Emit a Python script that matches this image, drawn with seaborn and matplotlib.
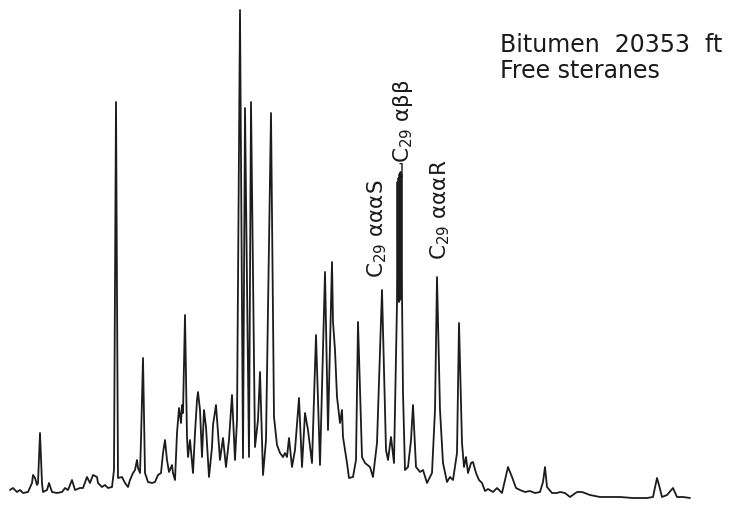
import matplotlib
matplotlib.use("Agg")
import matplotlib.pyplot as plt
import seaborn as sns
import pandas as pd

# Retention (scan) and abundance (arbitrary units)
scan = [10, 13, 17, 20, 23, 28, 32, 33, 35, 37, 38, 40, 42, 43, 47, 49, 52, 57, 62, 65,
        68, 72, 75, 80, 83, 87, 90, 93, 97, 98, 102, 105, 108, 112, 114, 116, 118, 122, 125, 128,
        130, 133, 135, 137, 138, 140, 141, 143, 145, 148, 152, 155, 158, 161, 163, 165, 167, 169, 172, 173,
        175, 177, 179, 181, 182, 183, 185, 187, 188, 190, 193, 195, 197, 198, 200, 202, 204, 206, 209, 212,
        213, 216, 218, 220, 223, 226, 229, 232, 235, 237, 240, 243, 245, 249, 251, 255, 258, 260, 263, 266,
        271, 274, 277, 280, 283, 285, 287, 289, 292, 295, 299, 302, 305, 308, 312, 316, 320, 325, 328, 332,
        333, 335, 337, 340, 342, 343, 347, 349, 353, 356, 358, 362, 365, 370, 373, 377, 382, 386, 388, 391,
        394, 397, 397.5, 398, 398.5, 399, 399.5, 400, 400.5, 401, 401.5, 402, 403, 405, 408, 411, 413, 416, 420, 423,
        427, 432, 435, 437, 440,
        443, 447, 450, 453, 457, 459, 462, 464, 466, 468, 471, 473, 476, 479, 482, 485, 488, 493, 497, 502,
        505, 508, 512, 516, 520, 525, 530, 535, 540, 543, 545, 547, 552, 557, 560, 565, 570, 577, 582, 590,
        600, 607, 620, 633, 647, 653, 657, 659, 662, 667, 673, 677, 683, 690]
abundance = [10, 12, 8, 10, 7, 8, 17, 25, 22, 15, 17, 67, 17, 8, 10, 17, 8, 7, 8, 12,
             10, 20, 10, 12, 12, 23, 17, 25, 23, 17, 13, 15, 12, 13, 30, 398, 22, 23, 17, 13,
             20, 27, 30, 40, 32, 27, 60, 142, 27, 18, 17, 18, 25, 27, 47, 60, 40, 28, 35, 27,
             20, 67, 92, 77, 95, 87, 185, 63, 43, 60, 27, 67, 100, 108, 90, 43, 90, 73, 23, 53,
             75, 95, 68, 40, 62, 33, 60, 105, 40, 80, 490, 42, 392, 43, 398, 53, 80, 128, 25, 60,
             387, 83, 55, 47, 43, 47, 43, 62, 33, 50, 102, 33, 87, 70, 37, 165, 35, 228, 70, 238,
             178, 150, 103, 77, 90, 63, 37, 22, 23, 40, 178, 43, 37, 33, 23, 57, 210, 50, 40, 63,
             37, 197, 318, 200, 322, 198, 326, 200, 328, 202, 325, 205, 107, 30, 33, 60, 95, 33, 28, 30,
             17, 27, 90, 223, 90,
             37, 18, 23, 20, 47, 177, 57, 33, 43, 27, 37, 38, 27, 20, 17, 9, 11, 8, 12, 7,
             20, 33, 23, 12, 10, 8, 9, 7, 8, 18, 33, 13, 7, 7, 8, 7, 3, 8, 8, 5,
             3, 3, 3, 2, 2, 3, 22, 15, 3, 5, 12, 3, 3, 2]

title_lines = ["Bitumen  20353  ft", "Free steranes"]
peak_labels = ["C$_{29}$ αααS", "C$_{29}$ αββ", "C$_{29}$ αααR"]
peak_scans = [377, 403, 440]
peak_label_base = [222, 337, 240]

df = pd.DataFrame({"scan": scan, "abundance": abundance})

sns.set_style("white")
fig = plt.figure(figsize=(7.43, 5.11), dpi=100)
ax = fig.add_axes([0, 0, 1, 1])
sns.lineplot(data=df, x="scan", y="abundance", sort=False, estimator=None,
             color="#1c1c1c", linewidth=1.3, ax=ax)
ax.set_xlim(0, 743)
ax.set_ylim(-11, 500)
ax.axis("off")

ax.text(500, 448, title_lines[0], fontsize=17, color="#1a1a1a", va="baseline", ha="left")
ax.text(500, 422, title_lines[1], fontsize=17, color="#1a1a1a", va="baseline", ha="left")

for lab, x, b in zip(peak_labels, peak_scans, peak_label_base):
    ax.text(x, b, lab, rotation=90, fontsize=15.5, color="#1a1a1a", ha="center", va="bottom")
ax.text(401, 330, "]", fontsize=11, color="#1a1a1a", ha="center", va="center")

fig.savefig("out.png", dpi=100)
